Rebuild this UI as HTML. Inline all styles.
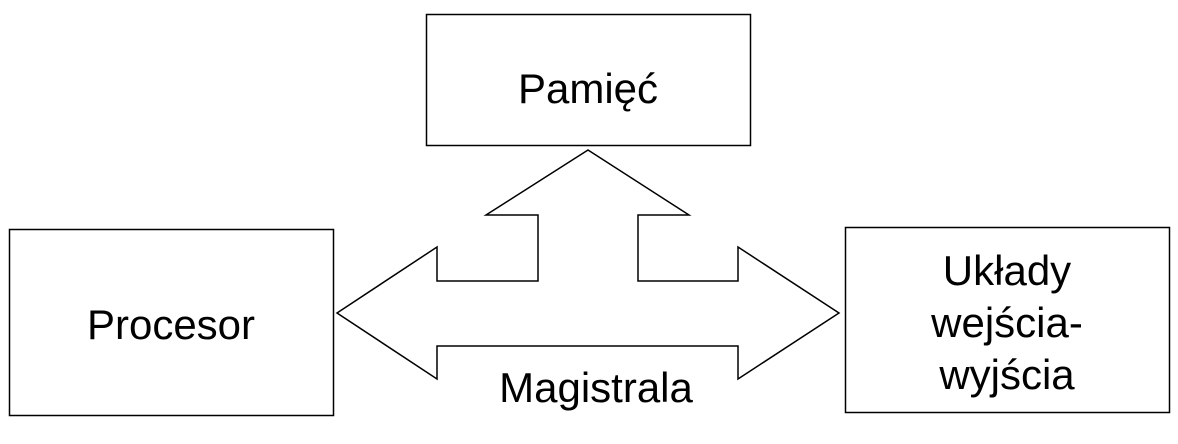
<!DOCTYPE html>
<html><head><meta charset="utf-8"><style>
html,body{margin:0;padding:0;background:#fff;}
svg{display:block}
text{font-family:"Liberation Sans","DejaVu Sans",sans-serif;font-size:42px;fill:#000}
</style></head><body>
<svg width="1178" height="444" viewBox="0 0 1178 444" xmlns="http://www.w3.org/2000/svg">
<rect x="426.5" y="14.5" width="324" height="131" fill="#fff" stroke="#000" stroke-width="1.5"/>
<rect x="9.5" y="229.5" width="324" height="186" fill="#fff" stroke="#000" stroke-width="1.5"/>
<rect x="845.5" y="227.5" width="324" height="185" fill="#fff" stroke="#000" stroke-width="1.5"/>
<polygon points="337,313 437,247 437,281 538,281 538,215 486,215 588,150 689,215 638,215 638,281 738,281 738,247 839,313 738,379 738,346 437,346 437,379" fill="#fff" stroke="#000" stroke-width="1.5" stroke-linejoin="miter"/>
<text x="588" y="103" text-anchor="middle">Pamięć</text>
<text x="171" y="339" text-anchor="middle">Procesor</text>
<text x="1007" y="285" text-anchor="middle">Układy</text>
<text x="1007" y="337" text-anchor="middle">wejścia-</text>
<text x="1007" y="389" text-anchor="middle">wyjścia</text>
<text x="596" y="402" text-anchor="middle">Magistrala</text>
</svg>
</body></html>
